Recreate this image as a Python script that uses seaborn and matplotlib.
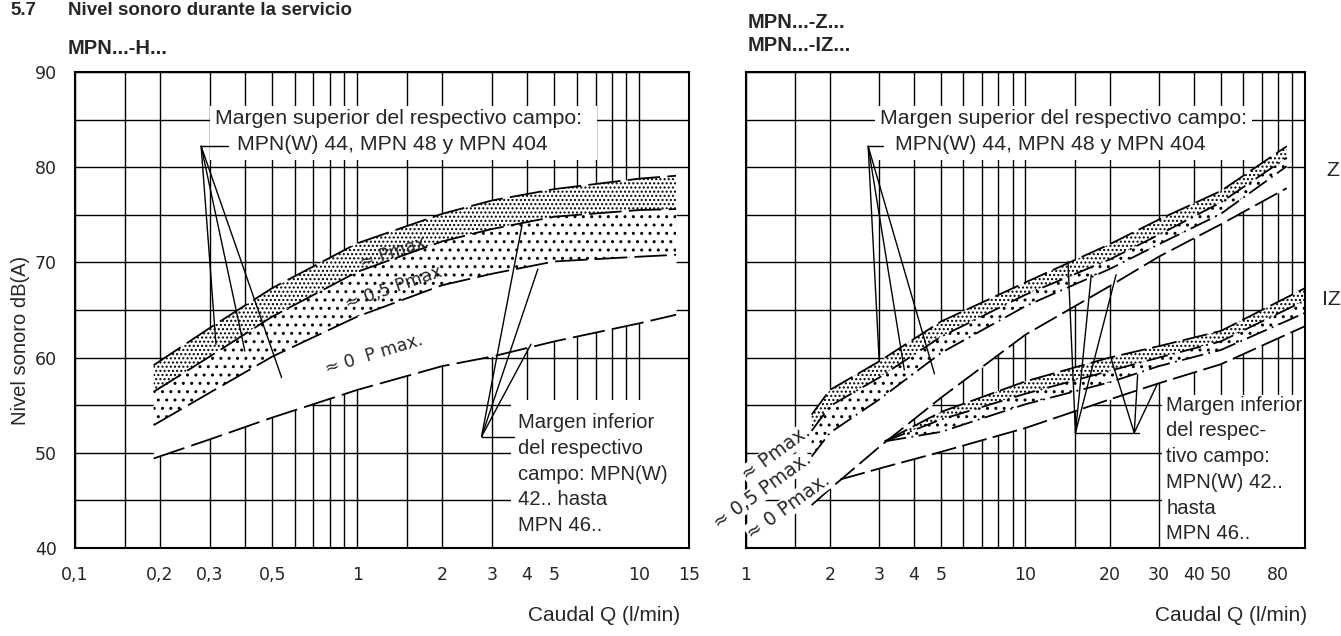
import matplotlib
matplotlib.use("Agg")
import matplotlib.pyplot as plt
from matplotlib.patches import Rectangle
from matplotlib.ticker import NullFormatter
import seaborn as sns
import numpy as np

# ---- left panel: MPN...-H...  (Q in l/min, level in dB(A))
q_h = [0.19, 0.3, 0.5, 1, 2, 3, 5, 10, 13.5]
h_pmax_sup = [59.2, 63.1, 67.3, 72.0, 75.1, 76.5, 77.7, 78.8, 79.1]
h_pmax_inf = [56.4, 60.1, 64.3, 69.0, 72.2, 73.5, 74.8, 75.5, 75.6]
h_half_inf = [52.9, 56.3, 60.1, 64.3, 67.6, 68.8, 70.1, 70.6, 70.8]
h_zero_inf = [49.4, 51.4, 53.7, 56.6, 59.1, 60.1, 61.7, 63.6, 64.5]

# ---- right panel: MPN...-Z...
q_z = [1.72, 2, 3, 5, 10, 20, 30, 50, 86]
z_pmax_sup = [54.0, 56.6, 59.6, 63.8, 67.9, 71.9, 74.5, 77.5, 82.2]
z_pmax_inf = [52.3, 54.9, 57.9, 62.2, 66.6, 70.3, 72.9, 76.3, 81.0]
z_half_inf = [49.6, 52.1, 55.6, 60.5, 65.4, 69.3, 71.9, 75.1, 80.1]
z_zero_inf = [44.5, 46.2, 50.6, 55.8, 62.4, 67.5, 70.6, 74.0, 77.8]

# ---- right panel: MPN...-IZ...
q_iz_zero = [2.18, 3.14, 5, 10, 20, 30, 50, 100]
iz_zero_inf = [47.2, 48.5, 50.1, 52.6, 55.6, 57.3, 59.3, 63.3]
q_iz = [3.14, 5, 10, 20, 30, 50, 100]
iz_pmax_sup = [51.2, 54.3, 57.5, 60.0, 61.2, 62.8, 67.3]
iz_pmax_inf = [51.2, 53.5, 56.2, 58.6, 60.0, 61.7, 66.0]
iz_half_inf = [51.2, 52.2, 55.1, 57.4, 59.1, 60.8, 64.7]
iz_branch_start = 47.2

# axis ticks
h_ticks = [0.1, 0.2, 0.3, 0.5, 1, 2, 3, 4, 5, 10, 15]
h_ticklabels = ["0,1", "0,2", "0,3", "0,5", "1", "2", "3", "4", "5", "10", "15"]
h_minor = [0.15, 0.4, 0.6, 0.7, 0.8, 0.9, 1.5, 6, 7, 8, 9]
z_ticks = [1, 2, 3, 4, 5, 10, 20, 30, 40, 50, 80, 100]
z_ticklabels = ["1", "2", "3", "4", "5", "10", "20", "30", "40", "50", "80", ""]
z_minor = [1.5, 6, 7, 8, 9, 15, 60, 70, 90]

# leader lines (vertex, end points)
h_sup_vertex = (0.28, 82.2)
h_sup_hook = 0.35
h_sup_ends = [(0.316, 61.4), (0.40, 60.7), (0.54, 57.9)]
h_inf_vertex = (2.76, 51.7)
h_inf_hook = 3.59
h_inf_ends = [(3.84, 73.9), (4.37, 69.3), (4.13, 61.4)]

z_sup_vertex = (2.74, 82.2)
z_sup_hook = 3.1
z_sup_ends = [(3.0, 59.7), (3.69, 58.7), (4.73, 58.3)]
z_inf_vertex_a = (15.1, 52.1)
z_inf_vertex_b = (24.5, 52.1)
z_inf_hook = 25.4
z_inf_ends_a = [(14.2, 70.1), (17.2, 68.7), (21.1, 68.7)]
z_inf_ends_b = [(20.2, 60.0), (25.2, 58.2), (29.6, 57.2)]

sns.set_style("white")
plt.rcParams["font.family"] = ["Liberation Sans", "DejaVu Sans"]

fig = plt.figure(figsize=(13.41, 6.36), dpi=100)
ax1 = fig.add_axes([0.0559, 0.1384, 0.4579, 0.7484])
ax2 = fig.add_axes([0.5561, 0.1384, 0.4171, 0.7484])

DASH = (0, (18, 4))
DASH_R = (0, (14, 3.5))
DASHDOT = (0, (12, 3, 1, 3))
TXT = 15.3
TXT_INF = 14.6


def band(ax, q, sup, mid, low, bottom):
    ax.fill_between(q, bottom, sup, facecolor="white", linewidth=0, zorder=1.5)
    ax.fill_between(q, mid, sup, facecolor="white", edgecolor="black",
                    hatch="....", linewidth=0, zorder=1.6)
    ax.fill_between(q, low, mid, facecolor="white", edgecolor="black",
                    hatch="..", linewidth=0, zorder=1.6)


def curve(ax, q, y, ls):
    sns.lineplot(x=q, y=y, ax=ax, color="black", linewidth=1.3,
                 linestyle=ls, estimator=None, sort=False, zorder=3)


def leader(ax, vertex, hook, ends):
    ax.plot([vertex[0], hook], [vertex[1], vertex[1]], color="black", lw=1.0, zorder=3)
    for e in ends:
        ax.plot([vertex[0], e[0]], [vertex[1], e[1]], color="black", lw=1.0, zorder=3)


for ax in (ax1, ax2):
    ax.set_xscale("log")
    ax.set_ylim(40, 90)
    ax.set_axisbelow(True)
    ax.set_yticks([40, 50, 60, 70, 80, 90])
    ax.set_yticks([45, 55, 65, 75, 85], minor=True)
    ax.grid(True, which="both", color="black", linewidth=1.0)
    ax.tick_params(which="major", length=7, width=1.2, direction="out",
                   labelsize=12.5, pad=6, color="black")
    ax.tick_params(which="minor", length=0)
    for s in ax.spines.values():
        s.set_color("black")
        s.set_linewidth(1.5)
    ax.set_xlabel("")
    ax.set_ylabel("")

# ---------- left panel
ax1.set_xlim(0.1, 15)
ax1.set_xticks(h_ticks, labels=h_ticklabels)
ax1.set_xticks(h_minor, minor=True)
ax1.xaxis.set_minor_formatter(NullFormatter())
for lab in ax1.get_xticklabels() + ax1.get_yticklabels():
    lab.set_family("DejaVu Sans")
    lab.set_fontsize(12.5)

band(ax1, q_h, h_pmax_sup, h_pmax_inf, h_half_inf, h_zero_inf)
for ys in (h_pmax_sup, h_pmax_inf, h_half_inf, h_zero_inf):
    curve(ax1, q_h, ys, DASH)

ax1.add_patch(Rectangle((0.22, 0.815), 0.63, 0.114, transform=ax1.transAxes,
                        facecolor="white", edgecolor="none", zorder=1.7))
ax1.text(0.228, 0.903, "Margen superior del respectivo campo:", transform=ax1.transAxes,
         fontsize=TXT, va="center", ha="left", zorder=4)
ax1.text(0.264, 0.847, "MPN(W) 44, MPN 48 y MPN 404", transform=ax1.transAxes,
         fontsize=TXT, va="center", ha="left", zorder=4)
ax1.add_patch(Rectangle((0.71, 0.0), 0.29, 0.31, transform=ax1.transAxes,
                        facecolor="white", edgecolor="none", zorder=1.7))
ax1.text(0.722, 0.155, "Margen inferior\ndel respectivo\ncampo: MPN(W)\n42.. hasta\nMPN 46..",
         transform=ax1.transAxes, fontsize=TXT_INF, va="center", ha="left",
         linespacing=1.45, zorder=4)
leader(ax1, h_sup_vertex, h_sup_hook, h_sup_ends)
leader(ax1, h_inf_vertex, h_inf_hook, h_inf_ends)

ax1.text(1.34, 71.0, "≈ Pmax", family="DejaVu Sans", fontsize=12.5, rotation=18,
         ha="center", va="center", rotation_mode="anchor", zorder=4)
ax1.text(1.38, 67.4, "≈ 0,5 Pmax.", family="DejaVu Sans", fontsize=12.5, rotation=19,
         ha="center", va="center", rotation_mode="anchor", zorder=4)
ax1.text(1.15, 60.3, "≈ 0  P max.", family="DejaVu Sans", fontsize=12.5, rotation=17,
         ha="center", va="center", rotation_mode="anchor", zorder=4)

# ---------- right panel
ax2.set_xlim(1, 100)
ax2.set_xticks(z_ticks, labels=z_ticklabels)
ax2.set_xticks(z_minor, minor=True)
ax2.xaxis.set_minor_formatter(NullFormatter())
ax2.tick_params(labelleft=False)
for lab in ax2.get_xticklabels():
    lab.set_family("DejaVu Sans")
    lab.set_fontsize(12.5)

band(ax2, q_z, z_pmax_sup, z_pmax_inf, z_half_inf, z_zero_inf)
ax2.fill_between(q_iz_zero, iz_zero_inf, [iz_branch_start] + iz_pmax_sup,
                 facecolor="white", linewidth=0, zorder=1.5)
band(ax2, q_iz, iz_pmax_sup, iz_pmax_inf, iz_half_inf, iz_half_inf)

curve(ax2, q_z, z_pmax_sup, DASH_R)
curve(ax2, q_z, z_pmax_inf, DASHDOT)
curve(ax2, q_z, z_half_inf, DASHDOT)
curve(ax2, q_z, z_zero_inf, DASH_R)
curve(ax2, q_iz, iz_pmax_sup, DASH_R)
curve(ax2, q_iz, iz_pmax_inf, DASHDOT)
curve(ax2, q_iz, iz_half_inf, DASHDOT)
curve(ax2, q_iz_zero, iz_zero_inf, DASH_R)

ax2.add_patch(Rectangle((0.231, 0.815), 0.675, 0.114, transform=ax2.transAxes,
                        facecolor="white", edgecolor="none", zorder=1.7))
ax2.text(0.24, 0.903, "Margen superior del respectivo campo:", transform=ax2.transAxes,
         fontsize=TXT, va="center", ha="left", zorder=4)
ax2.text(0.266, 0.847, "MPN(W) 44, MPN 48 y MPN 404", transform=ax2.transAxes,
         fontsize=TXT, va="center", ha="left", zorder=4)
ax2.add_patch(Rectangle((0.745, 0.0), 0.255, 0.321, transform=ax2.transAxes,
                        facecolor="white", edgecolor="none", zorder=1.7))
ax2.text(0.752, 0.165, "Margen inferior\ndel respec-\ntivo campo:\nMPN(W) 42..\nhasta\nMPN 46..",
         transform=ax2.transAxes, fontsize=TXT_INF, va="center", ha="left",
         linespacing=1.45, zorder=4)
leader(ax2, z_sup_vertex, z_sup_hook, z_sup_ends)
ax2.plot([z_inf_vertex_a[0], z_inf_hook], [z_inf_vertex_a[1], z_inf_vertex_a[1]],
         color="black", lw=1.0, zorder=3)
for e in z_inf_ends_a:
    ax2.plot([z_inf_vertex_a[0], e[0]], [z_inf_vertex_a[1], e[1]], color="black", lw=1.0, zorder=3)
for e in z_inf_ends_b:
    ax2.plot([z_inf_vertex_b[0], e[0]], [z_inf_vertex_b[1], e[1]], color="black", lw=1.0, zorder=3)

lbl_box = dict(facecolor="white", edgecolor="none", pad=0.5)
for txt, x, y in [("≈ Pmax.", 1.68, 52.4), ("≈ 0,5 Pmax.", 1.68, 49.6), ("≈ 0 Pmax.", 1.97, 47.4)]:
    ax2.text(x, y, txt, family="DejaVu Sans", fontsize=13.5, rotation=36,
             ha="right", va="center", rotation_mode="anchor", bbox=lbl_box,
             clip_on=False, zorder=4)

ax2.text(1.038, 0.794, "Z", transform=ax2.transAxes, fontsize=TXT, va="center", ha="left")
ax2.text(1.03, 0.521, "IZ", transform=ax2.transAxes, fontsize=TXT, va="center", ha="left")

# ---------- figure texts
fig.text(0.0075, 0.977, "5.7", fontsize=13.5, fontweight="bold", va="baseline")
fig.text(0.0507, 0.977, "Nivel sonoro durante la servicio", fontsize=13.5,
         fontweight="bold", va="baseline")
fig.text(0.0507, 0.9245, "MPN...-H...", fontsize=14.5, fontweight="bold", va="center")
fig.text(0.5578, 0.9654, "MPN...-Z...", fontsize=14.5, fontweight="bold", va="center")
fig.text(0.5578, 0.929, "MPN...-IZ...", fontsize=14.5, fontweight="bold", va="center")
fig.text(0.0155, 0.465, "Nivel sonoro dB(A)", fontsize=14.5, rotation=90,
         va="center", ha="center")
fig.text(680 / 1341, 0.017, "Caudal Q (l/min)", fontsize=15, ha="right", va="bottom")
fig.text(1307 / 1341, 0.017, "Caudal Q (l/min)", fontsize=15, ha="right", va="bottom")

fig.savefig("out.png", dpi=100)
